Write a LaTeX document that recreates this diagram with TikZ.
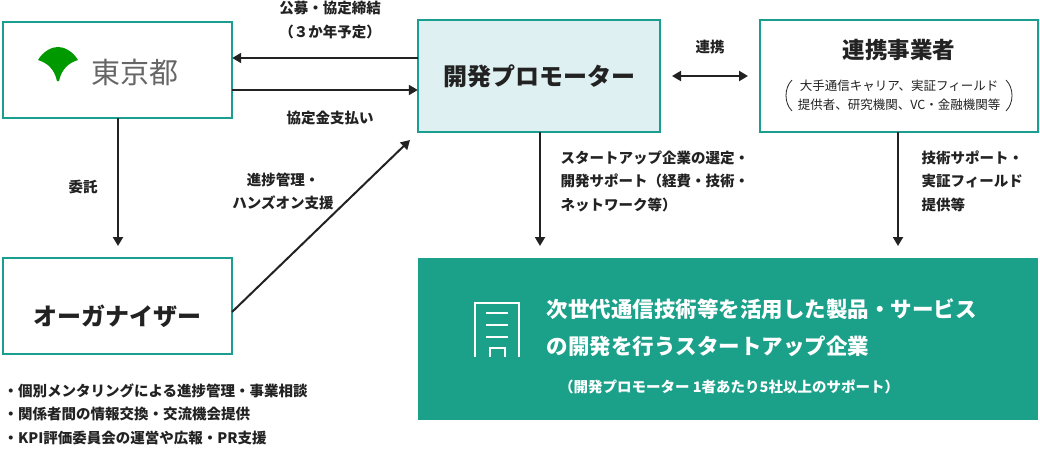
\documentclass[tikz,border=0pt]{standalone}
\usepackage{fontspec}
\setmainfont{Noto Sans CJK JP}
\usetikzlibrary{arrows.meta}
\definecolor{teal}{HTML}{1A9E8F}
\definecolor{gbox}{HTML}{1BA08A}
\definecolor{lbox}{HTML}{DFF0F2}
\definecolor{txt}{HTML}{222222}
\begin{document}
\begin{tikzpicture}[x=1pt,y=-1pt,
 box/.style={draw=teal,line width=2pt,fill=white},
 arr/.style={-{Triangle[length=9pt,width=10pt]},line width=2pt,draw=txt},
 lab/.style={font=\fontsize{14.5}{16}\selectfont\bfseries,text=txt,align=center},
 labl/.style={font=\fontsize{14.5}{23.5}\selectfont\bfseries,text=txt,align=left,anchor=north west}]
\useasboundingbox (0,0) rectangle (1040,452);
\draw[box] (3,22) rectangle (232,118);
\node (tokyo) at (117.5,70) [minimum width=229pt,minimum height=96pt] {};
\fill[green!60!black] (38,60) .. controls (44,50) and (53,47) .. (58,47) .. controls (63,47) and (72,50) .. (78,60) .. controls (69,63) and (62,68) .. (59,81) -- (57,81) .. controls (54,68) and (47,63) .. (38,60) -- cycle;
\node[font=\fontsize{29}{29}\selectfont,text=gray!80!black,anchor=west] at (88,72) {東京都};
\draw[box,fill=lbox] (418,20) rectangle (660,132);
\node (prom) at (539,76) [minimum width=242pt,minimum height=112pt,font=\fontsize{24}{24}\selectfont\bfseries,text=txt] {開発プロモーター};
\draw[box] (760,20) rectangle (1038,132);
\node (part) at (899,76) [minimum width=278pt,minimum height=112pt] {};
\node[font=\fontsize{22.5}{22}\selectfont\bfseries,text=txt] at (899,50) {連携事業者};
\node[font=\fontsize{12.5}{19}\selectfont,text=txt,align=center] at (899,95) {大手通信キャリア、実証フィールド\\提供者、研究機関、VC・金融機関等};
\draw[txt,line width=0.8pt] (792,80) .. controls (784,88) and (784,103) .. (792,111);
\draw[txt,line width=0.8pt] (1006,80) .. controls (1014,88) and (1014,103) .. (1006,111);
\draw[box] (3,258) rectangle (232,354);
\node (org) at (117.5,316) [minimum width=229pt,minimum height=96pt,font=\fontsize{24}{24}\selectfont\bfseries,text=txt] {オーガナイザー};
\fill[gbox] (418,258) rectangle (1038,420);
\node (svc) at (728,339) [minimum width=620pt,minimum height=162pt] {};
\begin{scope}[white,line width=1.5pt]
\draw (475,357) -- (475,303) -- (519,303) -- (519,357);
\draw (486,313)--(508,313) (486,325)--(508,325) (486,337)--(508,337);
\draw (490,357)--(490,348)--(505,348)--(505,357);
\end{scope}
\node[font=\fontsize{21.5}{37}\selectfont\bfseries,text=white,align=left,anchor=west] at (543,328) {次世代通信技術等を活用した製品・サービス\\の開発を行うスタートアップ企業};
\node[font=\fontsize{14.5}{14}\selectfont\bfseries,text=white] at (729,387) {（開発プロモーター 1者あたり5社以上のサポート）};
% arrows
\draw[arr] (prom.west|-0,58) -- (tokyo.east|-0,58);
\draw[arr] (tokyo.east|-0,90) -- (prom.west|-0,90);
\node[lab,font=\fontsize{14.5}{24}\selectfont\bfseries] at (330,20) {公募・協定締結\\（３か年予定）};
\node[lab] at (330,118) {協定金支払い};
\draw[{Triangle[length=9pt,width=10pt]}-{Triangle[length=9pt,width=10pt]},line width=2pt,draw=txt] (672,76) -- (748,76);
\node[lab] at (710,47) {連携};
\draw[arr] (tokyo.south-|118,0) -- (118,246);
\node[lab] at (83,187) {委託};
\coordinate (pa) at (410,140);
\draw[arr] (232,312) -- (pa);
\node[lab,font=\fontsize{14.5}{23}\selectfont\bfseries] at (283,191) {進捗管理・\\ハンズオン支援};
\coordinate (s1) at (540,246);
\coordinate (s2) at (898,246);
\draw[arr] (prom.south-|540,0) -- (s1);
\draw[arr] (part.south-|898,0) -- (s2);
\node[labl] at (557,147) {スタートアップ企業の選定・\\開発サポート（経費・技術・\\ネットワーク等）};
\node[labl] at (918,147) {技術サポート・\\実証フィールド\\提供等};
\node[labl] at (0,380) {・個別メンタリングによる進捗管理・事業相談\\・関係者間の情報交換・交流機会提供\\・KPI評価委員会の運営や広報・PR支援};
\end{tikzpicture}
\end{document}
